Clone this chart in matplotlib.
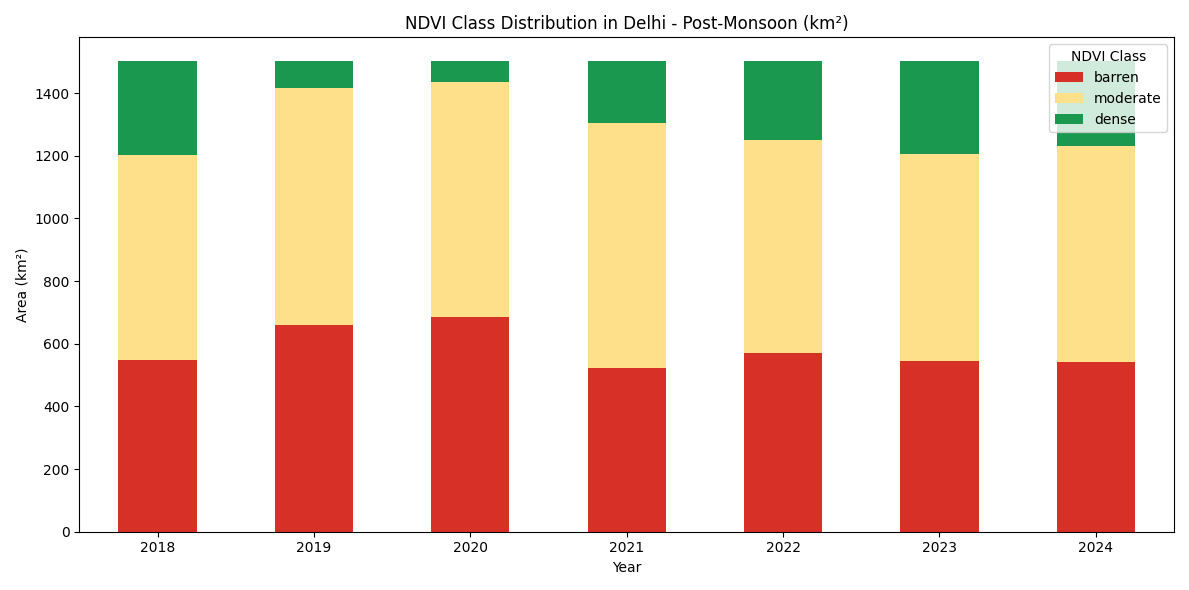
import matplotlib
matplotlib.use("Agg")
import matplotlib.pyplot as plt
import numpy as np

years = ["2018", "2019", "2020", "2021", "2022", "2023", "2024"]
total = 1503
barren = [547, 659, 684, 522, 569, 544, 541]
barren_moderate = [1203, 1416, 1434, 1306, 1250, 1206, 1231]
moderate = [bm - b for bm, b in zip(barren_moderate, barren)]
dense = [total - bm for bm in barren_moderate]

colors = ["#d73027", "#fee08b", "#1a9850"]

fig, ax = plt.subplots(figsize=(11.89, 5.9), dpi=100)
x = np.arange(len(years))
w = 0.5
ax.bar(x, barren, w, color=colors[0], label="barren")
ax.bar(x, moderate, w, bottom=barren, color=colors[1], label="moderate")
ax.bar(x, dense, w, bottom=barren_moderate, color=colors[2], label="dense")

ax.set_xticks(x)
ax.set_xticklabels(years)
ax.set_xlim(-0.5, len(years) - 0.5)
ax.set_xlabel("Year")
ax.set_ylabel("Area (km²)")
ax.set_title("NDVI Class Distribution in Delhi - Post-Monsoon (km²)")
ax.legend(title="NDVI Class", loc="upper right")

plt.tight_layout()
plt.savefig("out.png")
